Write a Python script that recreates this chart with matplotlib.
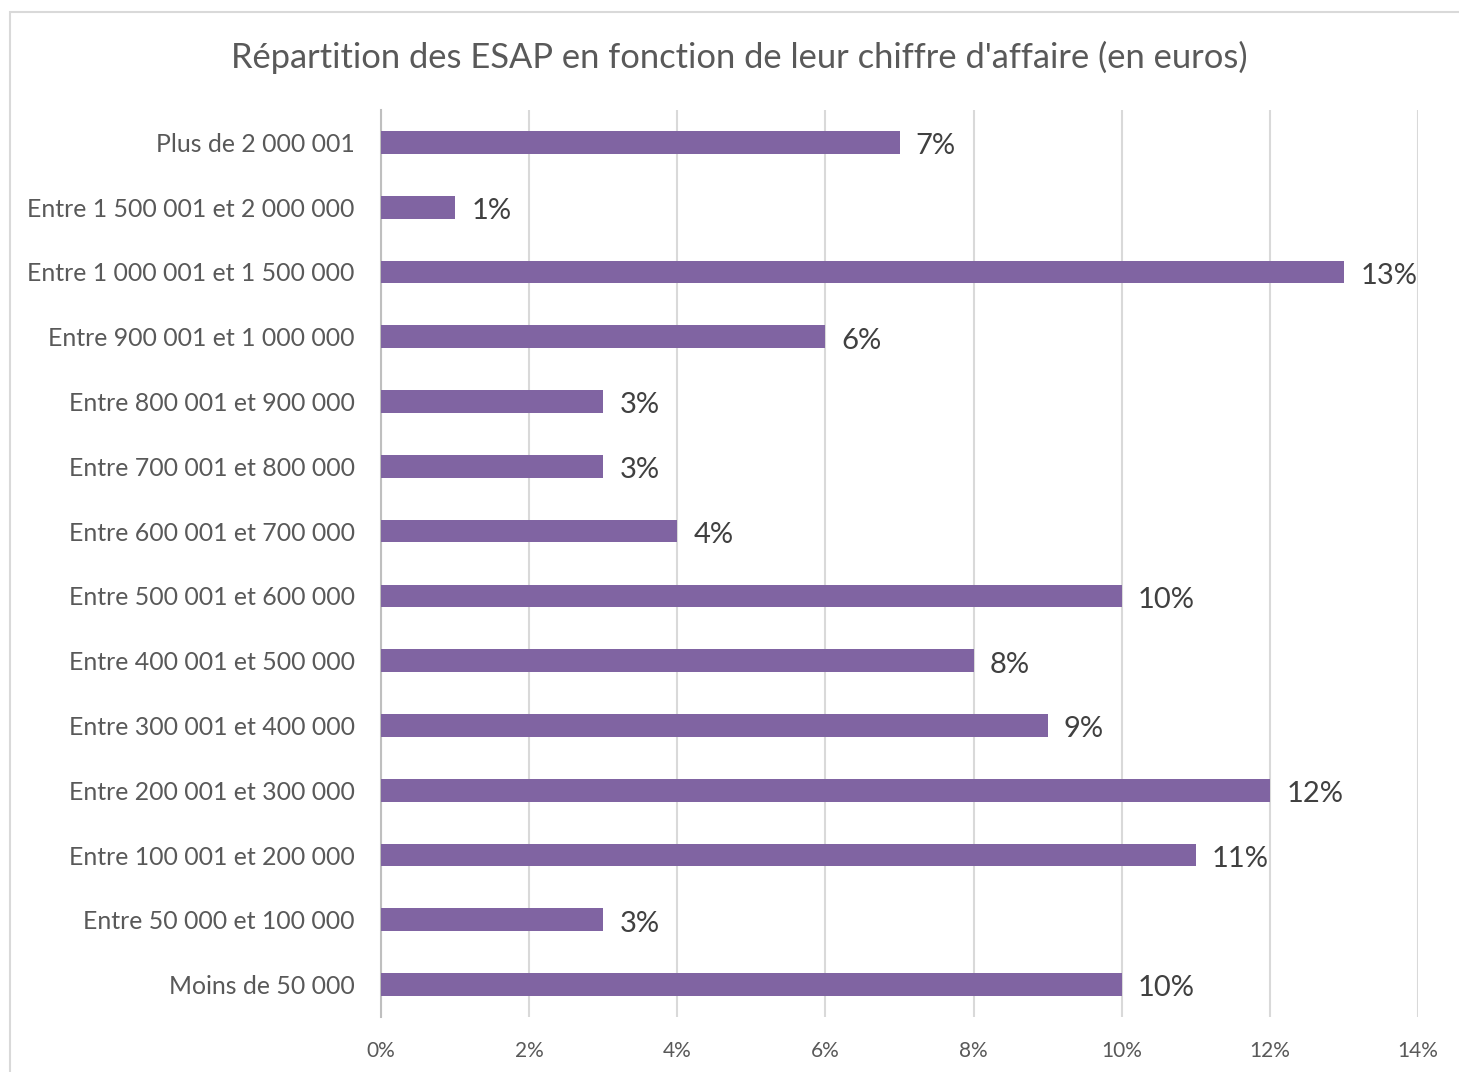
import matplotlib.pyplot as plt
from matplotlib.patches import Rectangle
from matplotlib.ticker import PercentFormatter

plt.rcParams['font.family'] = ['Lato', 'DejaVu Sans']

categories = [
    "Plus de 2 000 001",
    "Entre 1 500 001 et 2 000 000",
    "Entre 1 000 001 et 1 500 000",
    "Entre 900 001 et 1 000 000",
    "Entre 800 001 et 900 000",
    "Entre 700 001 et 800 000",
    "Entre 600 001 et 700 000",
    "Entre 500 001 et 600 000",
    "Entre 400 001 et 500 000",
    "Entre 300 001 et 400 000",
    "Entre 200 001 et 300 000",
    "Entre 100 001 et 200 000",
    "Entre 50 000 et 100 000",
    "Moins de 50 000",
]
values = [7, 1, 13, 6, 3, 3, 4, 10, 8, 9, 12, 11, 3, 10]
xticks = [0, 2, 4, 6, 8, 10, 12, 14]

bar_color = '#8064A2'
grid_color = '#D9D9D9'

fig = plt.figure(figsize=(14.59, 10.72), dpi=100)
fig.patches.append(Rectangle((10 / 1459, -0.1), 1.2, 1 - 12 / 1072 + 0.1,
                             transform=fig.transFigure, fill=False,
                             edgecolor='#D9D9D9', linewidth=1.5))
ax = fig.add_axes([381 / 1459, 1 - 1017 / 1072, 1037 / 1459, 907 / 1072])

y = list(range(len(categories)))
ax.barh(y, values, height=0.35, color=bar_color, zorder=3)
for yi, v in zip(y, values):
    ax.text(v + 0.22, yi + 0.06, f"{v}%", va='center', ha='left',
            fontsize=21, color='#404040', zorder=4)

ax.set_ylim(len(categories) - 0.5, -0.5)
ax.set_xlim(0, 14)
ax.set_xticks(xticks)
ax.xaxis.set_major_formatter(PercentFormatter(decimals=0))
ax.set_yticks(y)
ax.set_yticklabels(categories)
ax.tick_params(axis='y', length=0, pad=19, labelsize=17.9, labelcolor='#595959')
ax.tick_params(axis='x', length=0, pad=17, labelsize=15, labelcolor='#595959')
ax.grid(axis='x', color=grid_color, linewidth=1.5, zorder=0)
for s in ['top', 'right', 'bottom']:
    ax.spines[s].set_visible(False)
ax.spines['left'].set_color('#BFBFBF')
ax.spines['left'].set_linewidth(1.5)

fig.text(739 / 1459, 1 - 57 / 1072, "Répartition des ESAP en fonction de leur chiffre d'affaire (en euros)",
         ha='center', va='center', fontsize=24.8, color='#595959')

fig.savefig('out.png', dpi=100)
